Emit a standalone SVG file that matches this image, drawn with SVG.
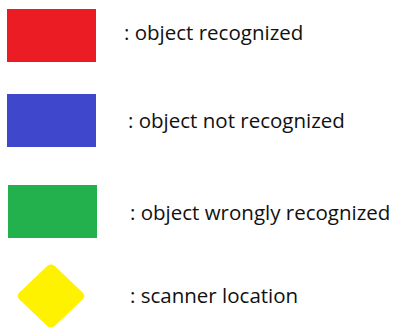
<svg xmlns="http://www.w3.org/2000/svg" width="398" height="331" viewBox="0 0 398 331">
<style>
text{font-family:"Open Sans","Liberation Sans",sans-serif;font-size:20.5px;fill:#111}
</style>
<rect width="398" height="331" fill="#fff"/>
<g id="red"><rect x="7" y="9" width="89" height="53" fill="#ec1c24"/><text x="124" y="40">: object recognized</text></g>
<g id="blue"><rect x="7" y="94" width="89" height="53" fill="#3f48cc"/><text x="128" y="128">: object not recognized</text></g>
<g id="green"><rect x="8" y="185" width="89" height="53" fill="#22b14c"/><text x="130" y="220">: object wrongly recognized</text></g>
<g id="scanner"><rect x="-25" y="-25" width="50" height="50" rx="5" fill="#fff200" transform="translate(51 296) scale(1 0.95) rotate(45)"/><text x="130" y="303">: scanner location</text></g>
<g id="connectors"/>
</svg>
